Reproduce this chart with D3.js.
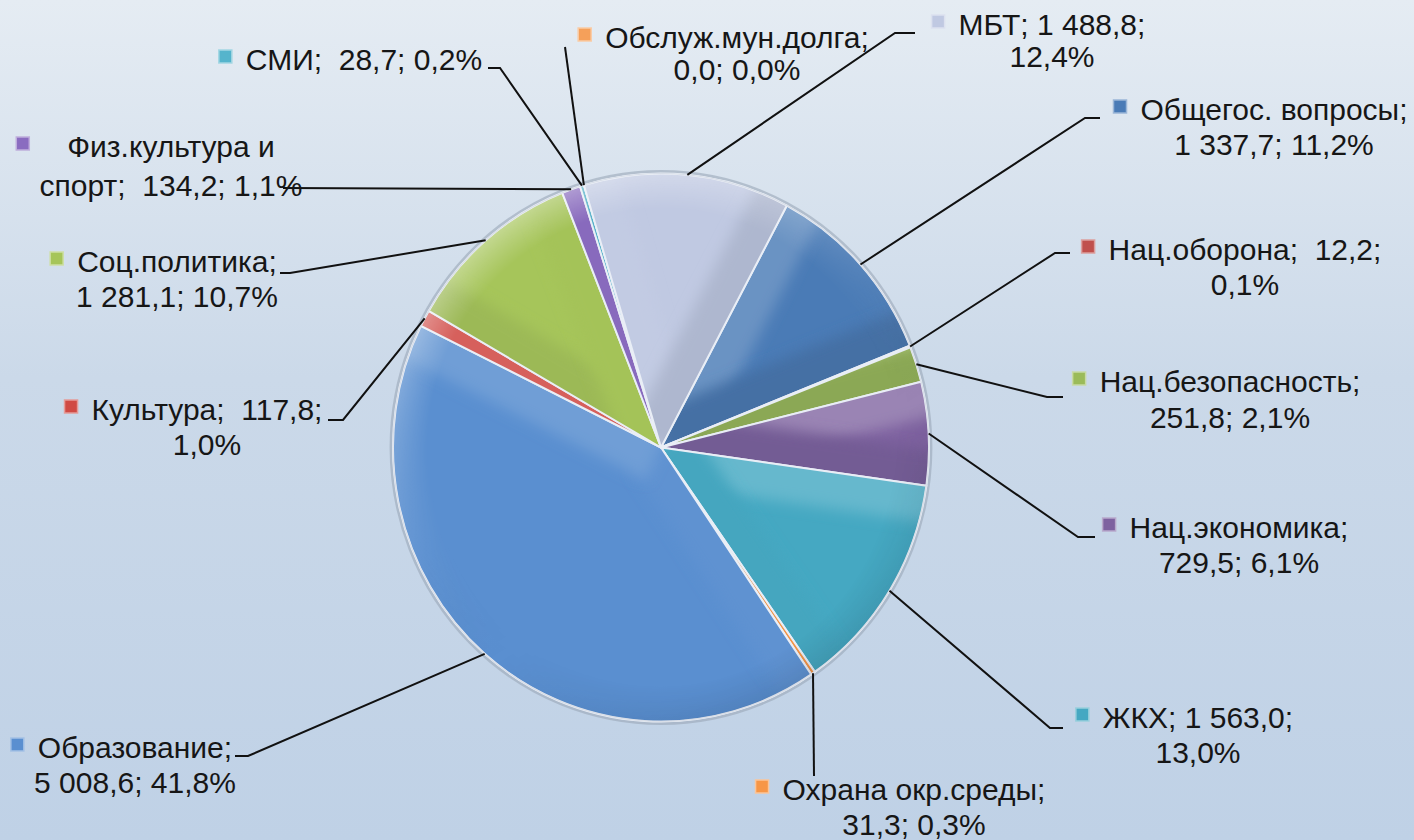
<!DOCTYPE html>
<html>
<head>
<meta charset="utf-8">
<script src="https://cdn.jsdelivr.net/npm/d3@7"></script>
<style>
  html, body { margin: 0; padding: 0; }
  body { width: 1414px; height: 840px; overflow: hidden; }
  text { font-family: "Liberation Sans", Arial, sans-serif; fill: #161616; }
</style>
</head>
<body>
<div id="chart"></div>
<script>
// data (clockwise order, starting from the Общегос. slice)
var categories = ["Общегос. вопросы", "Нац.оборона", "Нац.безопасность", "Нац.экономика", "ЖКХ",
                  "Охрана окр.среды", "Образование", "Культура", "Соц.политика",
                  "Физ.культура и спорт", "СМИ", "Обслуж.мун.долга", "МБТ"];
var values = [1337.7, 12.2, 251.8, 729.5, 1563.0, 31.3, 5008.6, 117.8, 1281.1, 134.2, 28.7, 0.0, 1488.8];
var colors = ["#4a7bb6", "#c0504d", "#9bbb59", "#7e62a0", "#45a8c2", "#f79646",
              "#5a8fd0", "#d04a44", "#a6c55a", "#8a6cc0", "#55b4cc", "#f5a05a", "#c0c9e2"];

// label layout: text centre, baselines, leader elbow/end
var labelLayout = [
  {cx: 1274, y: 120, dy: 35, br: 1, elbow: [1085, 118], end: [1100, 118]},
  {cx: 1245, y: 260, dy: 35, br: 2, wide: true, elbow: [1055, 253], end: [1070, 253]},
  {cx: 1230, y: 392, dy: 36, br: 1, elbow: [1047, 397], end: [1063, 397]},
  {cx: 1239, y: 538, dy: 35, br: 1, elbow: [1078, 537], end: [1095, 537]},
  {cx: 1198, y: 728, dy: 35, br: 2, elbow: [1050, 728], end: [1063, 728]},
  {cx: 914,  y: 800, dy: 35, br: 1, elbow: [814, 776], end: [814, 776]},
  {cx: 135,  y: 758, dy: 35, br: 1, elbow: [248, 756], end: [235, 756]},
  {cx: 207,  y: 420, dy: 35, br: 2, wide: true, elbow: [343, 420], end: [328, 420]},
  {cx: 177,  y: 272, dy: 35, br: 1, elbow: [290, 273], end: [280, 273]},
  {cx: 171,  y: 157, dy: 39, split: "Физ.культура и", wide: true, gap: 38, elbow: [283, 188], end: [283, 188]},
  {cx: 364,  y: 70,  dy: 35, br: 3, wide: true, elbow: [500, 68], end: [488, 68]},
  {cx: 737,  y: 48,  dy: 32, br: 1, elbow: [565, 47], end: [565, 47]},
  {cx: 1052, y: 35,  dy: 32, br: 2, elbow: [895, 33], end: [915, 33]}
];

var W = 1414, H = 840;
var cx = 661, cy = 447.5, r = 274, sx = 268 / 274;
var a0 = 28 * Math.PI / 180;
var bev = 36;

var ru = d3.formatLocale({decimal: ",", thousands: "\u00a0", grouping: [3], currency: ["", ""]});
var fmtVal = ru.format(",.1f");
var fmtPct = ru.format(".1%");
var total = d3.sum(values);

var data = categories.map(function(c, i) {
  return {name: c, value: values[i], color: colors[i], lay: labelLayout[i]};
});

var svg = d3.select("#chart").append("svg")
  .attr("width", W).attr("height", H);

var defs = svg.append("defs");
var bg = defs.append("linearGradient").attr("id", "bg")
  .attr("x1", 0).attr("y1", 0).attr("x2", 0).attr("y2", 1);
bg.append("stop").attr("offset", "0%").attr("stop-color", "#e5ecf3");
bg.append("stop").attr("offset", "45%").attr("stop-color", "#cbd9e9");
bg.append("stop").attr("offset", "100%").attr("stop-color", "#bfd1e6");

var rimG = defs.append("linearGradient").attr("id", "rimG")
  .attr("x1", 0.2).attr("y1", 0).attr("x2", 0.8).attr("y2", 1);
rimG.append("stop").attr("offset", "0%").attr("stop-color", "#fff").attr("stop-opacity", 0.4);
rimG.append("stop").attr("offset", "45%").attr("stop-color", "#fff").attr("stop-opacity", 0.05);
rimG.append("stop").attr("offset", "65%").attr("stop-color", "#000").attr("stop-opacity", 0.0);
rimG.append("stop").attr("offset", "100%").attr("stop-color", "#0a1a30").attr("stop-opacity", 0.14);

// soft ramp so the rim fades in towards the edge
var rimFade = defs.append("radialGradient").attr("id", "rimFade");
rimFade.append("stop").attr("offset", "0%").attr("stop-color", "#000");
rimFade.append("stop").attr("offset", ((r - bev) / r * 100) + "%").attr("stop-color", "#000");
rimFade.append("stop").attr("offset", "100%").attr("stop-color", "#fff");
defs.append("mask").attr("id", "rimMask")
  .attr("maskUnits", "userSpaceOnUse")
  .attr("x", -r - 5).attr("y", -r - 5).attr("width", 2 * r + 10).attr("height", 2 * r + 10)
  .append("circle").attr("r", r).attr("fill", "url(#rimFade)");

defs.append("filter").attr("id", "soft")
  .attr("x", "-20%").attr("y", "-20%").attr("width", "140%").attr("height", "140%")
  .append("feGaussianBlur").attr("stdDeviation", 7);

svg.append("rect").attr("width", W).attr("height", H).attr("fill", "url(#bg)");

var pie = d3.pie().sort(null).value(function(d) { return d.value; })
  .startAngle(a0).endAngle(a0 + 2 * Math.PI);
var arcs = pie(data);

// light from top-left
var L = [-0.45, -0.89];
function shade(base, nx, ny, amp) {
  var k = nx * L[0] + ny * L[1];
  return k > 0 ? d3.interpolateRgb(base, "#ffffff")(k * amp)
               : d3.interpolateRgb(base, "#1c2430")(-k * amp * 0.6);
}

var gPie = svg.append("g")
  .attr("transform", "translate(" + cx + "," + cy + ") scale(" + sx + ",1)");

// soft shadow ring
gPie.append("circle").attr("r", r + 2)
  .attr("fill", "none").attr("stroke", "#9aa7b8").attr("stroke-width", 3).attr("opacity", 0.6);

var arcFull = d3.arc().innerRadius(0).outerRadius(r);

arcs.forEach(function(d, i) {
  defs.append("clipPath").attr("id", "clip" + i).append("path").attr("d", arcFull(d));
});

var slice = gPie.selectAll(".slice").data(arcs).enter().append("g").attr("class", "slice");

slice.append("path").attr("d", arcFull).attr("fill", function(d) { return d.data.color; });

// bevel bands along the two straight edges
function band(a, nx, ny) {
  var R = r * 1.1;
  var p = [R * Math.sin(a), -R * Math.cos(a)];
  return d3.line()([[-nx * 20, -ny * 20], [p[0] - nx * 20, p[1] - ny * 20],
                    [p[0] + bev * nx, p[1] + bev * ny], [bev * nx, bev * ny]]) + "Z";
}
var bands = slice.append("g").attr("clip-path", function(d, i) { return "url(#clip" + i + ")"; });
bands.append("path")
  .attr("d", function(d) { return band(d.startAngle, Math.cos(d.startAngle), Math.sin(d.startAngle)); })
  .attr("filter", "url(#soft)")
  .attr("fill", function(d) {
    var s = d.startAngle;
    return shade(d.data.color, -Math.cos(s), -Math.sin(s), 0.22);
  });
bands.append("path")
  .attr("d", function(d) { return band(d.endAngle, -Math.cos(d.endAngle), -Math.sin(d.endAngle)); })
  .attr("filter", "url(#soft)")
  .attr("fill", function(d) {
    var e = d.endAngle;
    return shade(d.data.color, Math.cos(e), Math.sin(e), 0.22);
  });

// rim bevel, one gradient over the whole disc, faded in near the edge
gPie.append("circle").attr("r", r)
  .attr("fill", "url(#rimG)")
  .attr("mask", "url(#rimMask)");

// slice outline
slice.append("path").attr("d", arcFull)
  .attr("fill", "none").attr("stroke", "#e9eef6").attr("stroke-width", 2)
  .attr("stroke-linejoin", "round");

gPie.append("circle").attr("r", r)
  .attr("fill", "none").attr("stroke", "#d8dee8").attr("stroke-width", 1.2);

// leader lines
function piePoint(d) {
  var m = (d.startAngle + d.endAngle) / 2;
  return [cx + sx * r * Math.sin(m), cy - r * Math.cos(m)];
}

svg.append("g").selectAll("path").data(arcs).enter().append("path")
  .attr("d", function(d) {
    var p = piePoint(d), l = d.data.lay;
    return d3.line()([p, l.elbow, l.end]);
  })
  .attr("fill", "none").attr("stroke", "#111").attr("stroke-width", 2);

// labels
function labelLines(d) {
  var l = d.data.lay;
  var parts = [d.data.name + ";", fmtVal(d.data.value) + ";", fmtPct(d.data.value / total)];
  var sep = l.wide ? "\u00a0 " : " ";
  if (l.split) {
    var rest = d.data.name.slice(l.split.length).trim();
    return [l.split, rest + ";" + sep + parts[1] + " " + parts[2]];
  }
  var first = parts.slice(0, l.br), second = parts.slice(l.br);
  var line1 = first[0] + (first.length > 1 ? sep + first.slice(1).join(" ") : "");
  var lines = [line1];
  if (second.length) lines.push(second.join(" "));
  return lines;
}

var gLab = svg.append("g").selectAll(".lab").data(arcs).enter().append("g").attr("class", "lab");

gLab.each(function(d) {
  var g = d3.select(this), l = d.data.lay;
  var lines = labelLines(d);
  var t = g.append("text").attr("font-size", 30).attr("text-anchor", "middle")
    .style("white-space", "pre");
  lines.forEach(function(s, i) {
    t.append("tspan").attr("x", l.cx).attr("y", l.y + i * l.dy).text(s);
  });
  var w = t.select("tspan").node().getComputedTextLength();
  var mx = l.cx - w / 2 - (l.gap || 14) - 13;
  g.append("rect").attr("x", mx).attr("y", l.y - 20).attr("width", 13).attr("height", 13)
    .attr("fill", d.data.color)
    .attr("stroke", d3.interpolateRgb(d.data.color, "#ffffff")(0.45)).attr("stroke-width", 1.5);
});
</script>
</body>
</html>
